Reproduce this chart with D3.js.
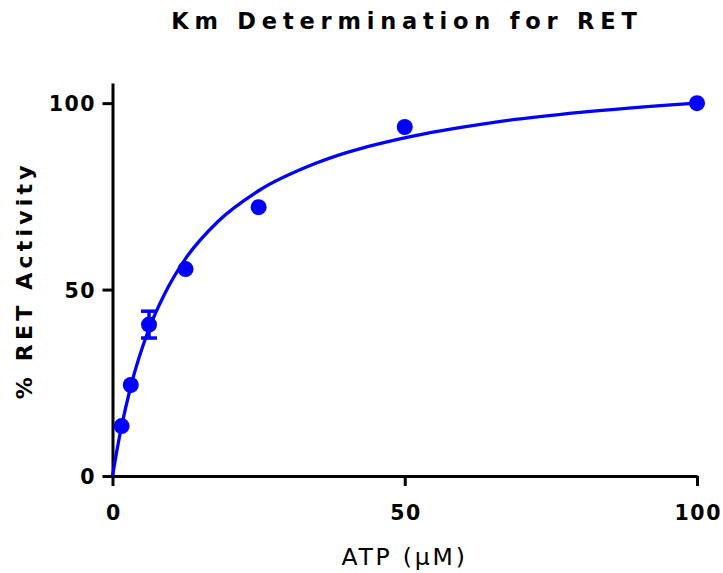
<!DOCTYPE html>
<html>
<head>
<meta charset="utf-8">
<script src="https://cdn.jsdelivr.net/npm/d3@7"></script>
<style>
  body { margin: 0; background: #fff; }
  svg { display: block; font-family: "DejaVu Sans", Arial, sans-serif; }
</style>
</head>
<body>
<div id="chart"></div>
<script>
// measured data (ATP in uM, % RET activity)
const atp = [1.5625, 3.125, 6.25, 12.5, 25, 50, 100];
const activity = [13.4, 24.4, 40.6, 55.5, 72.1, 93.6, 100];
const activityErr = [0, 0, 3.6, 0, 0, 0, 0];

// fitted curve
const fitX = [0, 0.7, 1.5625, 3.125, 6.25, 9, 12.5, 18, 25, 35, 50, 65, 80, 100];
const fitY = [0, 6.4, 13.4, 24.0, 39.5, 49.1, 58.3, 68.2, 76.5, 84.0, 90.7, 94.8, 97.5, 100];

const xTicks = [0, 50, 100];
const yTicks = [0, 50, 100];

const width = 723, height = 573;
const blue = "#0000ff";
const boldFont = "'DejaVu Sans', Arial, sans-serif";

const svg = d3.select("#chart").append("svg")
    .attr("width", width)
    .attr("height", height);

const x = d3.scaleLinear().domain([0, 100]).range([112.5, 697]);
const y = d3.scaleLinear().domain([0, 105.4]).range([476, 83]);

/************ axes *****************/
const xAxis = svg.append("g")
    .attr("transform", "translate(0," + y(0) + ")")
    .call(d3.axisBottom(x).tickValues(xTicks).tickSize(10).tickSizeOuter(0));

const yAxis = svg.append("g")
    .attr("transform", "translate(" + x(0) + ",0)")
    .call(d3.axisLeft(y).tickValues(yTicks).tickSize(10).tickSizeOuter(0));

[xAxis, yAxis].forEach(function(g) {
  g.select(".domain").attr("stroke", "#000").attr("stroke-width", 3);
  g.selectAll(".tick line").attr("stroke", "#000").attr("stroke-width", 3);
  g.selectAll(".tick text")
      .attr("fill", "#000")
      .attr("font-family", boldFont)
      .attr("font-size", 20.5)
      .attr("font-weight", "bold")
      .attr("letter-spacing", 1.5);
});

xAxis.selectAll(".tick text").attr("y", 44).attr("dy", 0).attr("dx", 0.75);
yAxis.selectAll(".tick text").attr("x", -16.5).attr("dy", "0.37em");

/************ titles *****************/
svg.append("text")
    .attr("x", 404 + 2.9)
    .attr("y", 28.5)
    .attr("text-anchor", "middle")
    .attr("font-family", boldFont)
    .attr("font-size", 22.5)
    .attr("font-weight", "bold")
    .attr("letter-spacing", 5.8)
    .text("Km Determination for RET");

svg.append("text")
    .attr("x", 403 + 1.5)
    .attr("y", 565)
    .attr("text-anchor", "middle")
    .attr("font-size", 23.5)
    .attr("letter-spacing", 2.8)
    .text("ATP (\u03bcM)");

svg.append("text")
    .attr("transform", "translate(32,282.5) rotate(-90)")
    .attr("dx", 2.2)
    .attr("text-anchor", "middle")
    .attr("font-family", boldFont)
    .attr("font-size", 22)
    .attr("font-weight", "bold")
    .attr("letter-spacing", 4.2)
    .text("% RET Activity");

/************ fit curve *****************/
const line = d3.line()
    .x(function(d, i) { return x(fitX[i]); })
    .y(function(d) { return y(d); })
    .curve(d3.curveMonotoneX);

svg.append("path")
    .datum(fitY)
    .attr("d", line)
    .attr("fill", "none")
    .attr("stroke", blue)
    .attr("stroke-width", 3.3);

/************ error bars + points *****************/
const bars = svg.append("g").attr("stroke", blue).attr("stroke-width", 3.5);
atp.forEach(function(a, i) {
  const e = activityErr[i];
  if (!e) return;
  const cx = x(a);
  bars.append("line").attr("x1", cx).attr("x2", cx)
      .attr("y1", y(activity[i] + e)).attr("y2", y(activity[i] - e));
  bars.append("line").attr("x1", cx - 8).attr("x2", cx + 8)
      .attr("y1", y(activity[i] + e)).attr("y2", y(activity[i] + e));
  bars.append("line").attr("x1", cx - 8).attr("x2", cx + 8)
      .attr("y1", y(activity[i] - e)).attr("y2", y(activity[i] - e));
});

svg.selectAll("circle.pt")
    .data(activity)
    .enter().append("circle")
    .attr("class", "pt")
    .attr("cx", function(d, i) { return x(atp[i]); })
    .attr("cy", function(d) { return y(d); })
    .attr("r", 8)
    .attr("fill", blue);
</script>
</body>
</html>
